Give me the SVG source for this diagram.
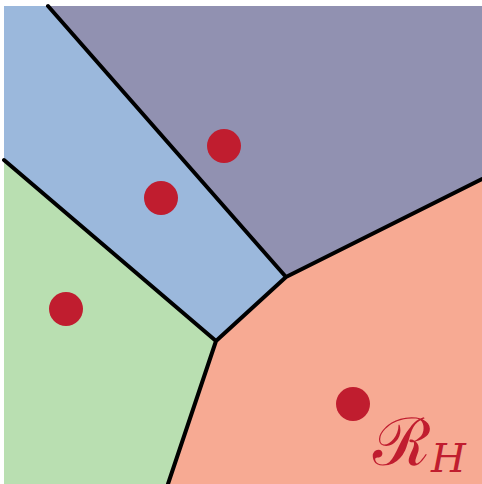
<svg xmlns="http://www.w3.org/2000/svg" width="482" height="484" viewBox="0 0 482 484">
<style>
.edge{stroke:#000;stroke-width:4;fill:none;stroke-linecap:round;stroke-linejoin:round}
.site{fill:#c01d2f}
.lbl{fill:#c01d2f;font-family:"DejaVu Serif","Liberation Serif",serif}
</style>
<rect width="482" height="484" fill="#fff"/>
<g id="cell-purple"><polygon points="48,6 482,6 482,179 286,277" fill="#9191b1"/></g>
<g id="cell-blue"><polygon points="4,6 48,6 286,277 216,341 4,160" fill="#9bb8dc"/></g>
<g id="cell-green"><polygon points="4,160 216,341 168,484 4,484" fill="#b9dfb1"/></g>
<g id="cell-salmon"><polygon points="286,277 482,179 482,484 168,484 216,341" fill="#f7aa93"/></g>
<g id="connectors">
<path class="edge" d="M48,6 L286,277 L482,179 M4,160 L216,341 L286,277 M216,341 L168,484"/>
</g>
<g id="sites">
<circle class="site" cx="224" cy="146" r="17"/>
<circle class="site" cx="161" cy="198" r="17"/>
<circle class="site" cx="66" cy="309" r="17"/>
<circle class="site" cx="353" cy="404" r="17"/>
</g>
<g id="label">
<text class="lbl" x="373" y="465" font-size="66">ℛ<tspan font-style="italic" font-size="40" dy="7">H</tspan></text>
</g>
</svg>
